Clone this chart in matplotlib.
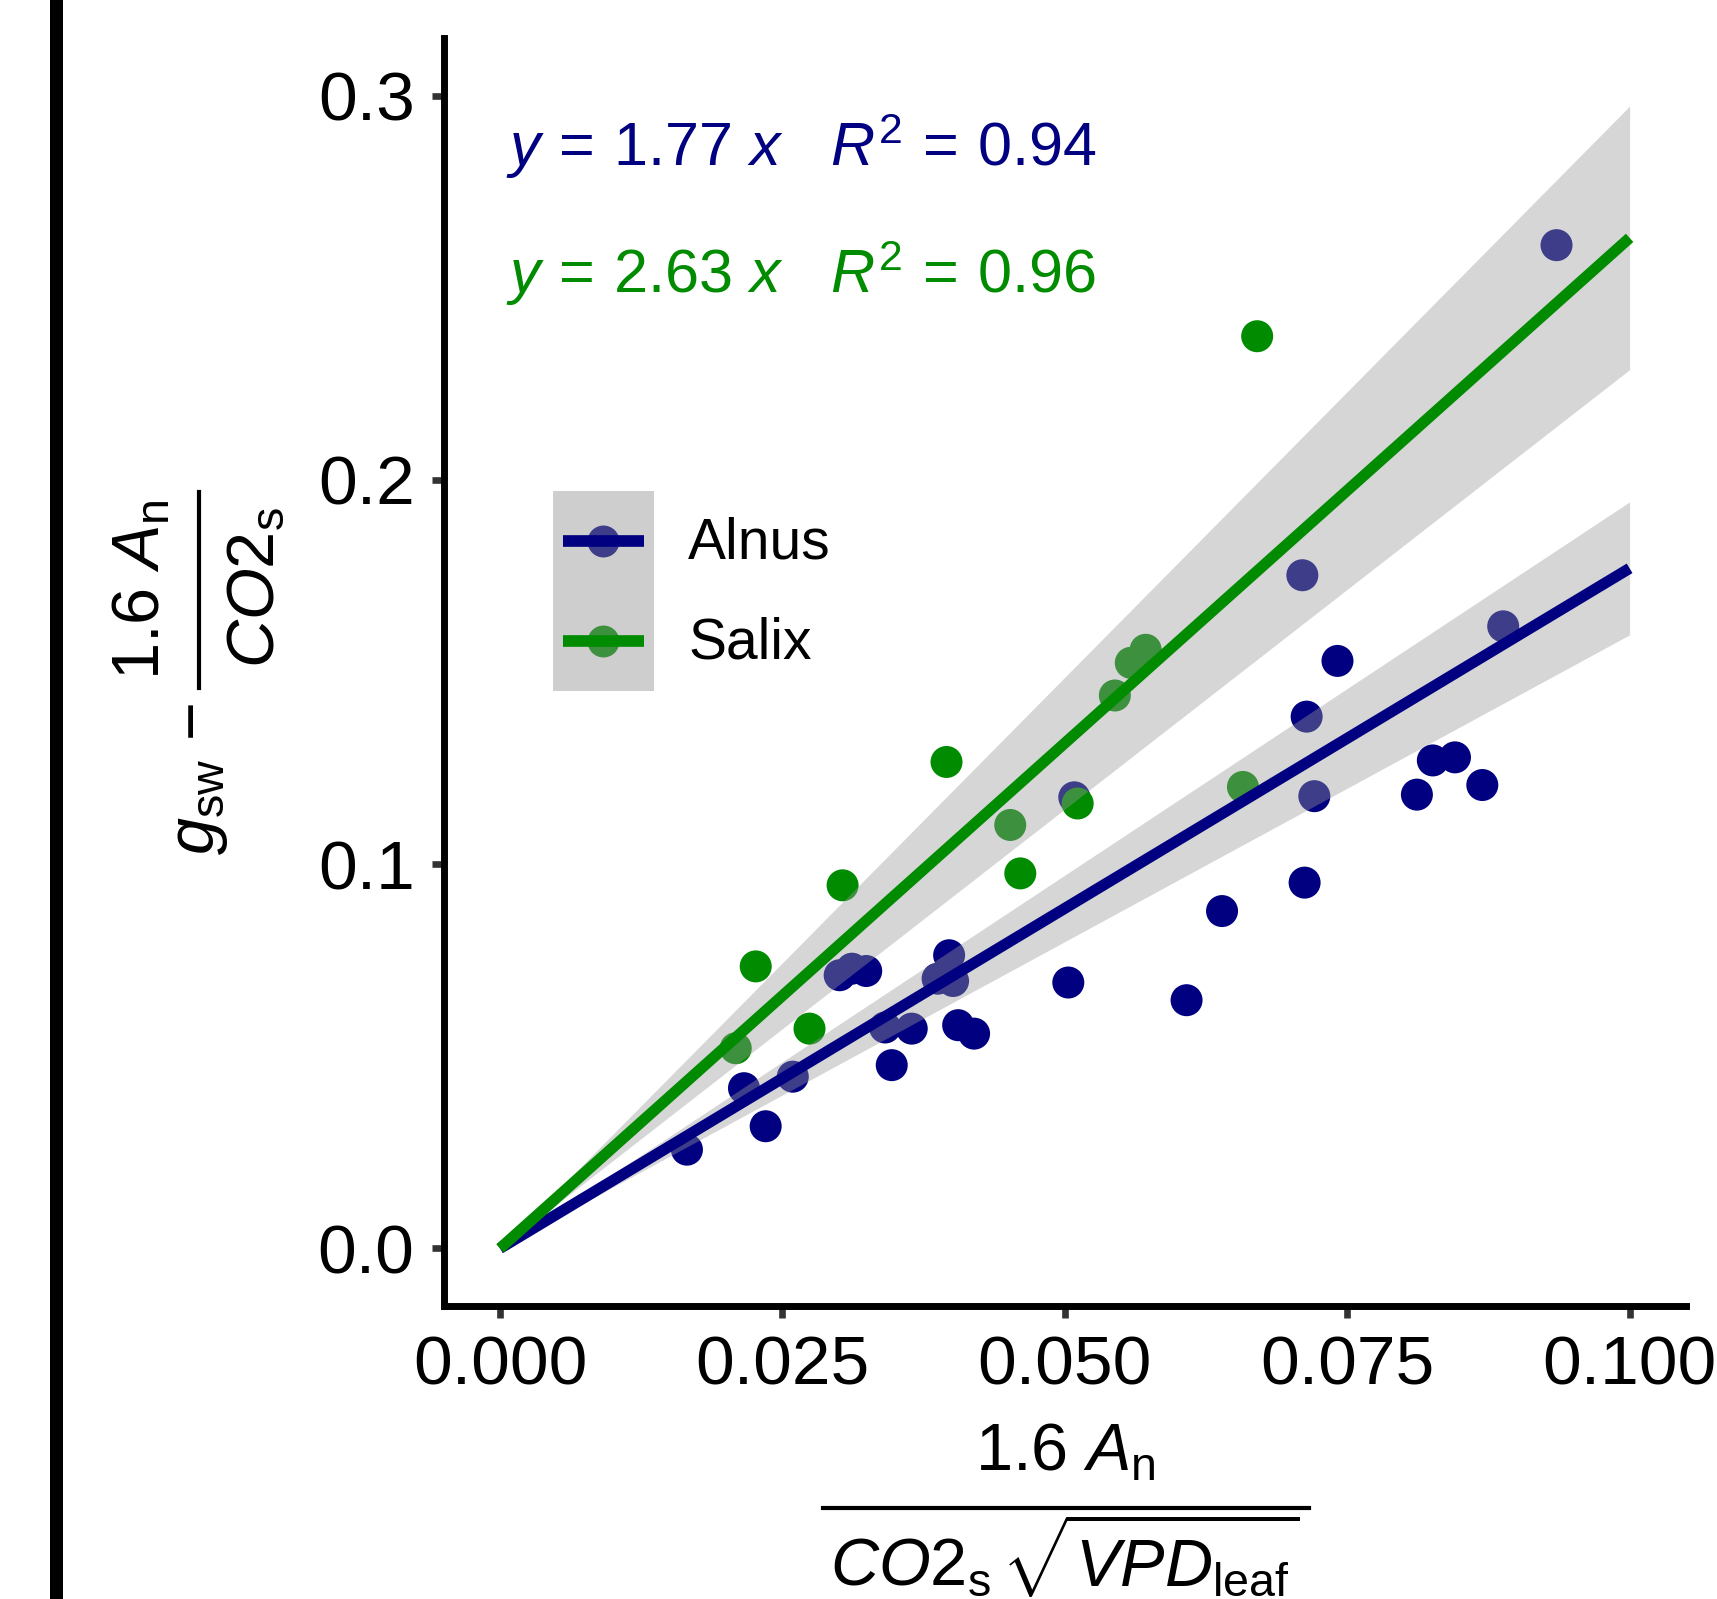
import numpy as np
import matplotlib
matplotlib.use("Agg")
from matplotlib import pyplot as plt
from matplotlib.patches import Rectangle
from matplotlib.lines import Line2D
from matplotlib.legend_handler import HandlerBase

plt.rcParams["font.family"] = ["Liberation Sans", "DejaVu Sans"]
plt.rcParams["mathtext.fontset"] = "custom"
plt.rcParams["mathtext.rm"] = "Liberation Sans"
plt.rcParams["mathtext.it"] = "Liberation Sans:italic"
plt.rcParams["mathtext.bf"] = "Liberation Sans:bold"

species = ["Alnus", "Salix"]
colours = ["#000080", "#008B00"]

alnus_x = [0.01655, 0.02160, 0.02352, 0.02592, 0.03007, 0.03116, 0.03242, 0.03409,
           0.03468, 0.03645, 0.03874, 0.03976, 0.04011, 0.04056, 0.04197, 0.05031,
           0.05084, 0.06078, 0.06392, 0.07103, 0.07123, 0.07141, 0.07209, 0.07414,
           0.08117, 0.08258, 0.08454, 0.08696, 0.08881, 0.09353]
alnus_y = [0.0257, 0.0417, 0.0318, 0.0447, 0.0711, 0.0728, 0.0722, 0.0575,
           0.0477, 0.0572, 0.0702, 0.0763, 0.0696, 0.0581, 0.0559, 0.0692,
           0.1174, 0.0646, 0.0878, 0.1752, 0.0952, 0.1384, 0.1177, 0.1529,
           0.1181, 0.1270, 0.1278, 0.1206, 0.1619, 0.2611]

salix_x = [0.02087, 0.02264, 0.02740, 0.03033, 0.03953, 0.04517, 0.04606,
           0.05114, 0.05443, 0.05584, 0.05716, 0.06577, 0.06703]
salix_y = [0.0521, 0.0734, 0.0572, 0.0945, 0.1266, 0.1102, 0.0976,
           0.1158, 0.1439, 0.1524, 0.1558, 0.1201, 0.2374]

# regression through the origin: slope, 95% CI half-width on the slope, R^2
fit_slope = [1.77, 2.63]
fit_ci = [0.173, 0.343]
fit_r2 = [0.94, 0.96]
fit_range = [0.0, 0.1]

x_ticks = [0.0, 0.025, 0.05, 0.075, 0.1]
x_ticklabels = ["0.000", "0.025", "0.050", "0.075", "0.100"]
y_ticks = [0.0, 0.1, 0.2, 0.3]
y_ticklabels = ["0.0", "0.1", "0.2", "0.3"]

xs = [alnus_x, salix_x]
ys = [alnus_y, salix_y]


class KeyHandler(HandlerBase):
    # grey key box with point, ribbon wash and fit line, like a smooth key
    def create_artists(self, legend, orig_handle, xdescent, ydescent,
                       width, height, fontsize, trans):
        colour = orig_handle.get_color()
        x0, y0 = -xdescent, -ydescent
        ymid = y0 + height / 2
        back = Rectangle((x0, y0), width, height, facecolor="#f2f2f2",
                         edgecolor="none", transform=trans)
        dot = Line2D([x0 + width / 2], [ymid], marker="o", markersize=23,
                     markeredgewidth=0, color=colour, linestyle="none",
                     transform=trans)
        wash = Rectangle((x0, y0), width, height, facecolor="#999999",
                         alpha=0.4, edgecolor="none", transform=trans)
        line = Line2D([x0 + 0.1 * width, x0 + 0.9 * width], [ymid, ymid],
                      color=colour, linewidth=8.4, solid_capstyle="butt",
                      transform=trans)
        return [back, dot, wash, line]


fig = plt.figure(figsize=(17.17, 15.99), dpi=100)
ax = fig.add_axes([0.2583, 0.1832, 0.7237, 0.7930])

for i in range(2):
    ax.scatter(xs[i], ys[i], s=531, color=colours[i], edgecolors="none", zorder=2)

fit_x = np.linspace(fit_range[0], fit_range[1], 50)
handles = []
for i in range(2):
    ax.fill_between(fit_x, (fit_slope[i] - fit_ci[i]) * fit_x,
                    (fit_slope[i] + fit_ci[i]) * fit_x,
                    color="#999999", alpha=0.4, linewidth=0, zorder=3 + i)
    ax.plot(fit_x, fit_slope[i] * fit_x, color=colours[i], linewidth=8,
            solid_capstyle="butt", zorder=3.5 + i)
    handles.append(Line2D([], [], color=colours[i]))

# equation labels
for i, ypos in enumerate([0.8993, 0.7991]):
    ax.text(0.0503, ypos,
            r"$y\,=\,%.2f\ x\quad R^2\,=\,%.2f$" % (fit_slope[i], fit_r2[i]),
            transform=ax.transAxes, ha="left", va="baseline",
            fontsize=44, color=colours[i])

ax.set_xlim(-0.005, 0.105)
ax.set_ylim(-0.015, 0.315)
ax.set_xticks(x_ticks)
ax.set_xticklabels(x_ticklabels)
ax.set_yticks(y_ticks)
ax.set_yticklabels(y_ticklabels)

for side in ["top", "right"]:
    ax.spines[side].set_visible(False)
for side in ["left", "bottom"]:
    ax.spines[side].set_linewidth(5)
ax.tick_params(length=8.3, width=4.8, color="#333333", labelsize=50,
               labelcolor="black", pad=12.5)

# x axis title: stacked fraction
ax.text(0.5, -0.1293, r"$1.6\ A_\mathrm{n}$", transform=ax.transAxes,
        ha="center", va="baseline", fontsize=48)
fig.add_artist(Line2D([0.3052, 0.6966], [-0.1593, -0.1593], color="black",
                      linewidth=3, transform=ax.transAxes))
ax.text(0.5, -0.2208, r"$CO2_\mathrm{s}\,\sqrt{VPD_\mathrm{leaf}}$",
        transform=ax.transAxes, ha="center", va="baseline", fontsize=48)

# y axis title: g_sw minus a stacked fraction, rotated
ax.text(-0.1847, 0.4756, r"$g_\mathrm{sw}$ −", transform=ax.transAxes,
        rotation=90, rotation_mode="anchor", ha="right", va="baseline",
        fontsize=48)
ax.text(-0.2282, 0.5647, r"$1.6\ A_\mathrm{n}$", transform=ax.transAxes,
        rotation=90, rotation_mode="anchor", ha="center", va="baseline",
        fontsize=48)
fig.add_artist(Line2D([-0.1968, -0.1968], [0.4874, 0.6420], color="black",
                      linewidth=3, transform=ax.transAxes))
ax.text(-0.1372, 0.5667, r"$CO2_\mathrm{s}$", transform=ax.transAxes,
        rotation=90, rotation_mode="anchor", ha="center", va="baseline",
        fontsize=48)

ax.legend(handles, species, handler_map={Line2D: KeyHandler()},
          loc="upper left", bbox_to_anchor=(553 / 1717, 1 - 491 / 1599),
          bbox_transform=fig.transFigure, frameon=False, borderpad=0,
          borderaxespad=0, labelspacing=0, handlelength=1.773,
          handleheight=2.325, handletextpad=0.6, fontsize=41)

# panel divider on the left edge
fig.add_artist(Rectangle((50 / 1717, 0), 13 / 1717, 1, transform=fig.transFigure,
                         facecolor="black", edgecolor="none"))

fig.savefig("out.png", dpi=100)
